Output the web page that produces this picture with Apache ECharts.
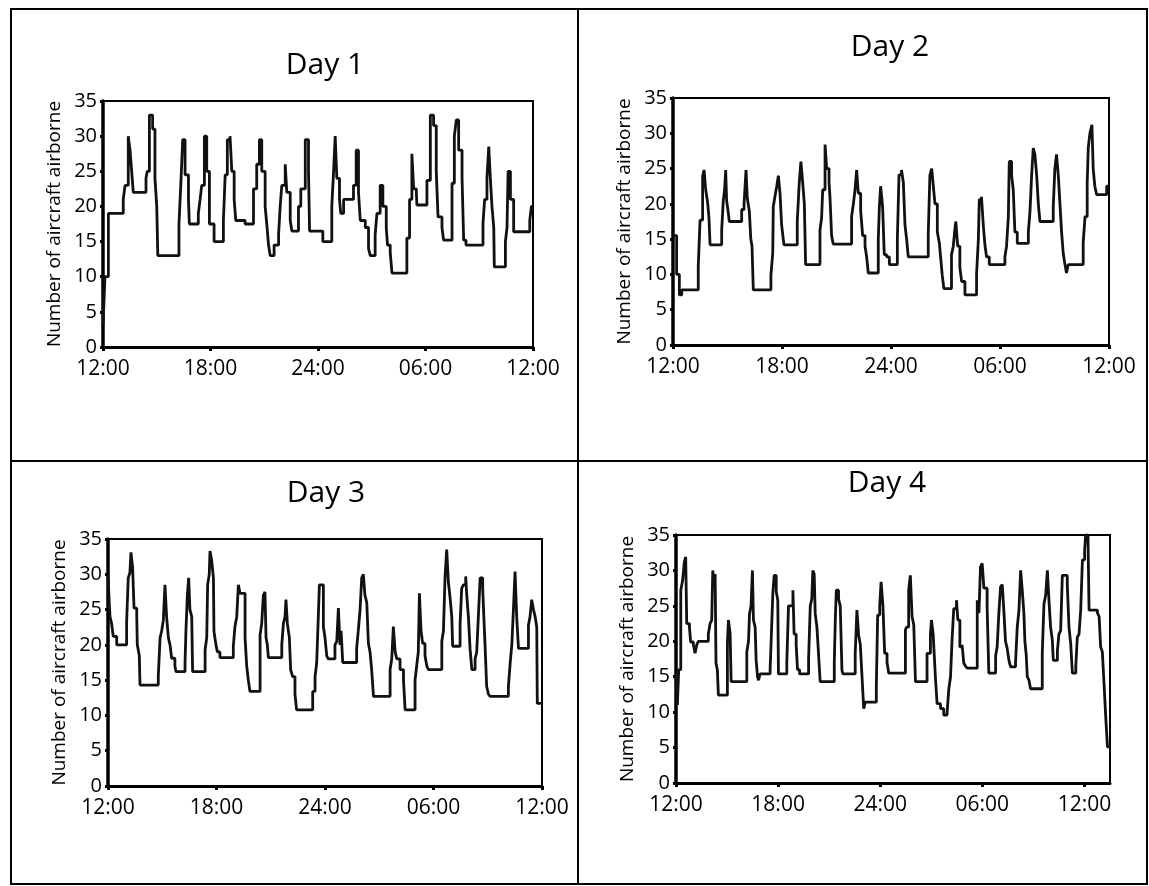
<!DOCTYPE html>
<html>
<head>
<meta charset="utf-8">
<script src="https://cdn.jsdelivr.net/npm/echarts@6/dist/echarts.min.js"></script>
<style>
html,body{margin:0;padding:0;background:#fff;}
#chart{width:1149px;height:886px;}
</style>
</head>
<body>
<div id="chart"></div>
<script>
// Hours after 12:00 (start of each day's window), aircraft airborne (step values)
const day1Steps = [[0,3],[0.11,10],[0.3,19],[1.13,21],[1.23,23],[1.41,30],[1.51,28],[1.6,25],[1.69,22],[2.4,24],[2.47,25],[2.59,33],[2.77,31],[2.9,24],[3.0,20],[3.06,13],[4.24,17.5],[4.34,23],[4.45,29.5],[4.58,24.5],[4.77,21],[4.82,17.5],[5.32,19],[5.42,21],[5.51,23],[5.66,30],[5.79,25],[5.94,17.5],[6.2,15],[6.72,18],[6.82,24.5],[6.94,29.5],[7.09,30],[7.19,25],[7.32,21],[7.41,18],[7.93,17.5],[8.4,22.5],[8.58,26],[8.73,29.5],[8.86,25],[9.05,20],[9.14,17.5],[9.24,14.5],[9.33,13],[9.55,14.5],[9.8,16],[9.89,20],[9.98,23],[10.17,26],[10.26,22],[10.45,18],[10.54,16.5],[10.91,20],[11.04,22.5],[11.29,29.5],[11.47,25],[11.53,16.5],[12.27,15],[12.77,20],[12.87,25],[12.96,30],[13.05,24],[13.2,21],[13.27,19],[13.43,21],[13.98,23],[14.13,28],[14.26,22],[14.36,18],[14.64,17],[14.82,14],[14.92,13],[15.19,16],[15.29,19],[15.47,23],[15.62,20],[15.81,17],[15.88,14.5],[16.03,13.5],[16.13,10.5],[16.96,15.5],[17.11,21],[17.24,27.5],[17.34,22.5],[17.49,22],[17.52,20.2],[18.08,23.7],[18.27,33],[18.45,31.5],[18.6,25],[18.7,18.5],[18.92,17],[19.01,15.2],[19.48,23.3],[19.61,30],[19.72,32.3],[19.85,28],[20.04,24],[20.13,15.2],[20.26,14.5],[21.21,17.6],[21.3,21],[21.43,24],[21.53,28.5],[21.62,24],[21.71,20],[21.81,17],[21.84,11.4],[22.46,15],[22.55,17],[22.61,25],[22.74,21],[22.92,16.4],[23.82,18],[23.91,20],[24,20]];

const day2Steps = [[0,15.5],[0.2,10],[0.35,7.1],[0.48,7.8],[1.39,11.1],[1.49,17.7],[1.63,23.9],[1.71,24.8],[1.8,22],[1.91,20.1],[1.98,18],[2.04,14.2],[2.68,16.3],[2.77,20.5],[2.84,22],[2.9,24.8],[2.95,20.5],[3.03,19],[3.1,17.5],[3.78,19.2],[3.91,20],[4.02,24.8],[4.09,20.8],[4.2,19],[4.28,15.1],[4.35,14],[4.42,7.8],[5.39,9.9],[5.49,13],[5.52,19.6],[5.61,21],[5.71,22.5],[5.8,24],[5.89,21.5],[5.98,17],[6.07,15],[6.11,14.2],[6.84,17.5],[6.95,23],[7.04,26],[7.14,23],[7.23,20],[7.3,11.4],[8.09,16.3],[8.18,18],[8.24,22],[8.37,28.4],[8.46,25],[8.59,23],[8.64,21],[8.73,15.5],[8.82,14.3],[9.83,18.2],[9.93,20],[10.02,22],[10.11,24.8],[10.2,21.5],[10.33,19],[10.44,15.5],[10.57,14],[10.66,12.5],[10.75,10.2],[11.3,15],[11.36,19.6],[11.43,22.5],[11.54,19.5],[11.63,12.8],[11.76,12.5],[11.91,11.4],[12.35,15],[12.44,24.1],[12.58,24.8],[12.68,23],[12.77,17],[12.86,15],[12.95,12.5],[14.05,15.6],[14.14,24],[14.24,25],[14.33,22.5],[14.42,20],[14.55,16],[14.66,14.5],[14.73,12.5],[14.82,9.9],[14.91,8],[15.33,12.8],[15.43,14],[15.52,16.5],[15.57,17.5],[15.67,14],[15.79,11],[15.89,9],[16.07,7.1],[16.71,10],[16.81,15],[16.86,20.6],[16.98,21],[17.08,17],[17.17,14.2],[17.26,12.5],[17.41,11.4],[18.27,12.5],[18.36,14],[18.46,18.2],[18.51,26],[18.64,24],[18.73,22],[18.82,16],[18.95,14.4],[19.56,16],[19.65,18.9],[19.74,24],[19.83,27.9],[19.92,27],[20.02,24],[20.11,20],[20.2,17.5],[20.93,19.5],[21.02,25],[21.11,27],[21.21,24],[21.3,20],[21.39,16],[21.48,13],[21.57,11.5],[21.66,10.2],[21.76,11.4],[22.58,14.5],[22.68,18.2],[22.8,23],[22.86,28],[22.95,30],[23.06,31.2],[23.13,25],[23.22,22.5],[23.32,21.3],[23.87,22.5],[24,22.5]];

const day3Steps = [[0,30],[0.05,27],[0.11,24],[0.2,23],[0.29,21.2],[0.48,20],[1.03,23.2],[1.12,29.5],[1.21,30.2],[1.27,33.1],[1.36,31],[1.44,25.2],[1.59,24],[1.62,20],[1.73,18.5],[1.77,14.3],[2.78,15.5],[2.88,21],[2.97,22],[3.06,23.5],[3.15,28.5],[3.24,24],[3.34,21],[3.43,20],[3.52,18.1],[3.7,17],[3.76,16.2],[4.26,17.5],[4.31,22],[4.39,27.1],[4.46,29.5],[4.53,25],[4.63,24],[4.68,16.2],[5.37,19.3],[5.46,21],[5.51,28.5],[5.6,30],[5.64,33.3],[5.73,32],[5.83,29.5],[5.86,21.9],[5.97,20],[6.05,19],[6.19,18.2],[6.93,19.8],[7.02,22.6],[7.12,24],[7.21,28.5],[7.3,27.3],[7.58,21],[7.67,17],[7.76,15],[7.85,13.4],[8.41,21.4],[8.5,23],[8.59,27],[8.68,27.5],[8.74,21],[8.81,20],[8.87,18.2],[9.61,20],[9.7,23],[9.79,24],[9.84,26.4],[9.92,23],[10.03,21],[10.1,16.5],[10.21,15.5],[10.34,13],[10.43,10.8],[11.32,13.4],[11.45,15.5],[11.54,17.4],[11.63,24],[11.69,28.5],[11.91,22.6],[12.0,21],[12.1,18.4],[12.19,18],[12.55,20],[12.65,20.5],[12.74,25.2],[12.83,20],[12.89,22],[12.98,17.5],[13.75,19.5],[13.84,22],[13.94,25],[14.03,29.5],[14.12,30],[14.21,27],[14.31,26],[14.4,20.2],[14.49,19],[14.58,16.5],[14.68,12.7],[15.6,16.5],[15.69,18],[15.78,22.6],[15.88,19],[15.97,18],[16.15,16.5],[16.34,15],[16.43,10.8],[16.98,15],[17.07,17],[17.16,19],[17.22,27.3],[17.31,22],[17.4,20.2],[17.53,18.5],[17.63,17],[17.72,16.5],[18.46,20.5],[18.55,22],[18.64,29.7],[18.73,33.5],[18.82,29],[18.92,26.6],[19.01,24],[19.06,19.8],[19.47,23],[19.56,28],[19.65,28.5],[19.78,29.7],[19.84,27],[19.93,24],[20.02,19.5],[20.12,16.5],[20.3,18],[20.39,19],[20.48,24],[20.58,29.5],[20.72,28],[20.8,23],[20.85,20],[20.94,14.1],[21.04,13],[21.13,12.7],[22.14,14],[22.24,17.4],[22.33,20],[22.42,25],[22.51,30.4],[22.6,24],[22.7,19.5],[23.25,22.8],[23.34,24],[23.43,26.4],[23.53,25],[23.62,24],[23.71,22.5],[23.74,11.7],[24,11.7]];

const day4Steps = [[0,15.5],[0.08,11],[0.16,16],[0.28,27.2],[0.39,28.6],[0.49,31.2],[0.57,31.9],[0.63,22.5],[0.79,22],[0.86,19.9],[1.02,19.5],[1.12,18.3],[1.22,19.5],[1.31,20],[1.9,21],[2.0,22.5],[2.1,23],[2.16,30],[2.24,28],[2.3,29.5],[2.35,16.9],[2.43,16],[2.49,12.4],[3.02,19.7],[3.08,23],[3.18,21.1],[3.24,14.3],[4.16,18.5],[4.26,20],[4.32,23.9],[4.41,25],[4.49,30],[4.55,23],[4.65,22],[4.71,17.3],[4.79,15],[4.85,14.5],[4.94,15.4],[5.53,16],[5.59,20],[5.69,26.8],[5.77,29.3],[5.89,27],[5.98,25.8],[6.02,15.4],[6.51,17],[6.61,25],[6.87,27.2],[6.94,21],[7.06,19.5],[7.14,16],[7.26,15.4],[7.79,17.5],[7.89,25],[7.98,26],[8.04,30],[8.12,29.5],[8.18,23.9],[8.28,22],[8.38,18],[8.47,14.3],[9.3,17],[9.36,23],[9.42,27.2],[9.55,26],[9.65,25],[9.75,15.9],[9.81,15.4],[10.53,18.3],[10.63,24.4],[10.73,20.9],[10.83,19.5],[10.93,15],[11.03,10.5],[11.12,11.4],[11.77,13.5],[11.85,23.7],[11.97,25],[12.05,28.4],[12.16,25],[12.26,18.3],[12.4,17],[12.5,15.5],[13.48,21.6],[13.54,22],[13.67,27.2],[13.77,29.3],[13.87,23.5],[13.97,22.3],[14.07,14.3],[14.75,18.3],[14.95,21.1],[15.01,23],[15.11,21],[15.18,17.8],[15.24,15],[15.34,11.2],[15.54,10.5],[15.73,9.6],[15.93,10],[16.03,13.3],[16.13,15],[16.22,20.2],[16.32,24.6],[16.48,25.8],[16.56,23],[16.68,19.2],[16.81,19.5],[16.91,16.9],[17.01,16.5],[17.11,16.2],[17.7,25.8],[17.8,24],[17.89,30.5],[17.99,31],[18.09,27.5],[18.28,24.9],[18.38,15.5],[18.78,18],[18.87,19.2],[18.97,24],[19.07,27.7],[19.17,28],[19.27,24],[19.36,20],[19.46,19],[19.56,17.3],[19.66,16.4],[19.95,17],[20.05,22],[20.15,24.4],[20.25,30],[20.35,27],[20.44,24],[20.5,20],[20.58,18],[20.64,15],[20.74,14.5],[20.83,13.3],[21.52,18.3],[21.62,25.3],[21.72,26.5],[21.82,30],[21.92,25.5],[22.01,22],[22.11,20.2],[22.17,17.3],[22.41,18.7],[22.5,21],[22.6,21.5],[22.7,29.3],[22.99,28],[23.09,22],[23.19,19.7],[23.29,15.5],[23.49,16.5],[23.58,20.6],[23.68,21],[23.78,24.5],[23.88,31.5],[24.01,32.9],[24.07,35],[24.21,34],[24.27,24.4],[24.76,24],[24.86,23.5],[24.95,19.2],[25.05,18.5],[25.15,14],[25.25,9.3],[25.35,5.1],[25.5,5.1]];

const dayTitles = ['Day 1', 'Day 2', 'Day 3', 'Day 4'];
const tickHours = [0, 6, 12, 18, 24];
const tickLabels = ['12:00', '18:00', '24:00', '06:00', '12:00'];
const yAxisTitle = 'Number of aircraft airborne';
const xMaxHours = [24, 24, 24, 25.5];

const FONT = '"Open Sans", "DejaVu Sans", sans-serif';
const grids = [
  {left: 103, top: 101, width: 430, height: 246},
  {left: 673, top: 98, width: 436, height: 247},
  {left: 108, top: 539, width: 434, height: 247},
  {left: 676, top: 535, width: 434, height: 248}
];
const titlePos = [[320, 45], [885, 27], [321, 473], [882, 463]];
const allSteps = [day1Steps, day2Steps, day3Steps, day4Steps];

const chart = echarts.init(document.getElementById('chart'), null, {renderer: 'canvas'});
const option = {
  backgroundColor: '#fff',
  animation: false,
  title: dayTitles.map((t, i) => ({
    text: t, left: titlePos[i][0], top: titlePos[i][1], textAlign: 'center',
    textStyle: {fontFamily: FONT, fontSize: 30, fontWeight: 'normal', color: '#000'}
  })),
  grid: grids.map(g => Object.assign({show: true, borderColor: '#000', borderWidth: 2, backgroundColor: 'transparent'}, g)),
  xAxis: grids.map((g, i) => ({
    type: 'value', gridIndex: i, min: 0, max: xMaxHours[i], interval: 6,
    axisLine: {show: true, lineStyle: {color: '#000', width: 3}},
    axisTick: {show: true, inside: false, length: 4, lineStyle: {color: '#000', width: 3}, customValues: tickHours},
    axisLabel: {
      customValues: tickHours, margin: 12, color: '#000', fontFamily: FONT, fontSize: 21,
      formatter: v => { const k = tickHours.indexOf(v); return k >= 0 ? tickLabels[k] : ''; }
    },
    splitLine: {show: false}
  })),
  yAxis: grids.map((g, i) => ({
    type: 'value', gridIndex: i, min: 0, max: 35, interval: 5,
    name: yAxisTitle, nameLocation: 'middle', nameGap: 39,
    nameTextStyle: {fontFamily: FONT, fontSize: 19, color: '#000'},
    axisLine: {show: true, lineStyle: {color: '#000', width: 3.5}},
    axisTick: {show: true, inside: false, length: 3, lineStyle: {color: '#000', width: 3}},
    axisLabel: {margin: 6, color: '#000', fontFamily: FONT, fontSize: 20},
    splitLine: {show: false}
  })),
  series: allSteps.map((d, i) => ({
    type: 'line', xAxisIndex: i, yAxisIndex: i, data: d, step: 'end',
    showSymbol: false, symbol: 'none',
    lineStyle: {color: '#111', width: 2.8}
  })),
  graphic: [
    {type: 'rect', shape: {x: 11, y: 9, width: 1136, height: 875}, style: {fill: 'none', stroke: '#000', lineWidth: 2}, z: 100},
    {type: 'line', shape: {x1: 578, y1: 9, x2: 578, y2: 884}, style: {stroke: '#000', lineWidth: 2}, z: 100},
    {type: 'line', shape: {x1: 11, y1: 461, x2: 1147, y2: 461}, style: {stroke: '#000', lineWidth: 2}, z: 100}
  ]
};
chart.setOption(option);
</script>
</body>
</html>
